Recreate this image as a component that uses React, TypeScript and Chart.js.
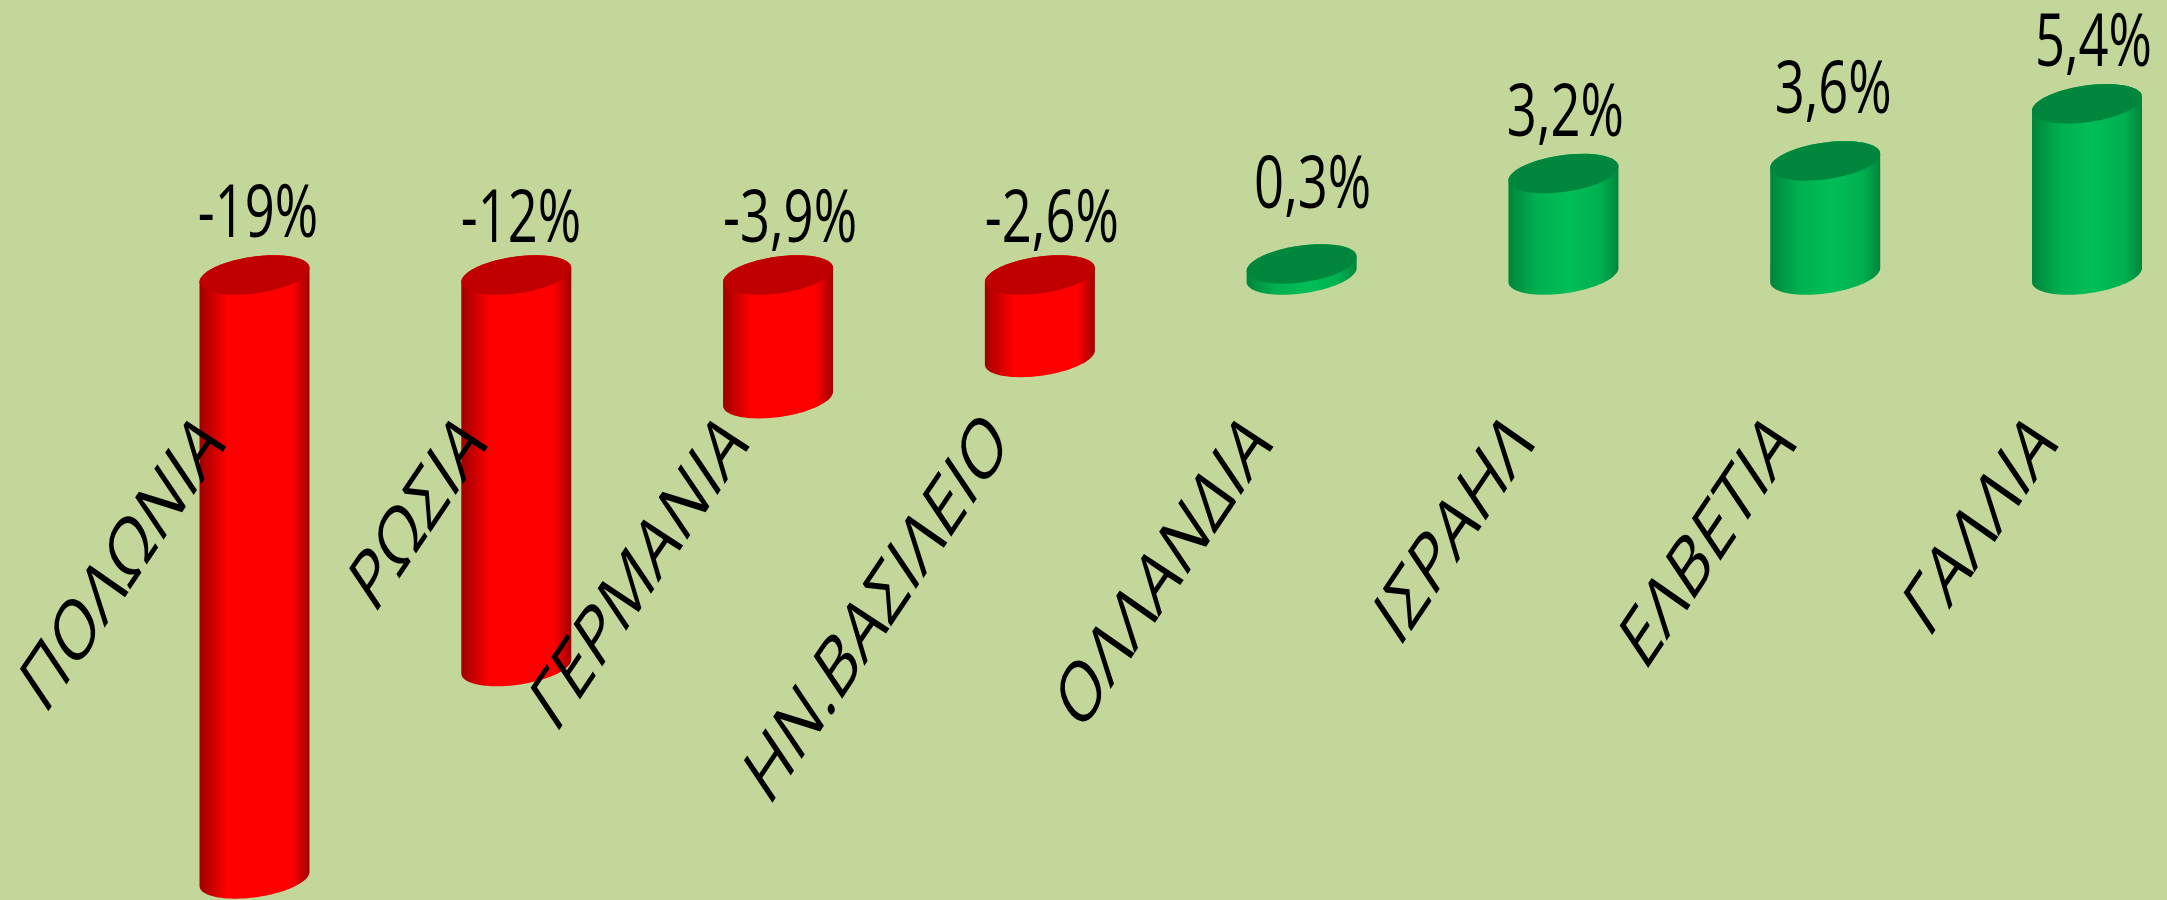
import React, { useEffect, useRef } from "react";
import { Chart, registerables, CategoryScale } from "chart.js";

Chart.register(...registerables);

// Data
const categories = ["ΠΟΛΩΝΙΑ", "ΡΩΣΙΑ", "ΓΕΡΜΑΝΙΑ", "ΗΝ.ΒΑΣΙΛΕΙΟ", "ΟΛΛΑΝΔΙΑ", "ΙΣΡΑΗΛ", "ΕΛΒΕΤΙΑ", "ΓΑΛΛΙΑ"];
const changeValues = [-19.05, -12.35, -3.9, -2.6, 0.35, 3.2, 3.6, 5.4];
const changeLabels = ["-19%", "-12%", "-3,9%", "-2,6%", "0,3%", "3,2%", "3,6%", "5,4%"];

// Layout and style constants
const W = 2167;
const H = 900;
const BG = "#C4D79B";
const TICK_SQUEEZE = 0.672; // the whole picture is squeezed horizontally
const VALUE_SQUEEZE = 0.71;
const BAR_WIDTH = 110;
const EDGE_TILT = 7;
const CAP_RY = 18.5;
const LABEL_DX = [3.5, 4.7, 12, 12, 11, 2, 8, 6.5];
const LABEL_GAP = [18, 13, 13, 13, 36, 18, 28, 18];

class SqueezedCategoryScale extends CategoryScale {
  static id = "squeezedCategory";
  drawLabels(chartArea: any) {
    const ctx = this.ctx;
    for (const item of (this as any).getLabelItems(chartArea)) {
      const { label, font, options } = item;
      ctx.save();
      ctx.translate(options.translation[0], options.translation[1]);
      ctx.scale(TICK_SQUEEZE, 1);
      ctx.rotate(options.rotation);
      ctx.font = font.string;
      ctx.fillStyle = options.color;
      ctx.textAlign = options.textAlign;
      ctx.textBaseline = options.textBaseline;
      ctx.fillText(label, 0, 0);
      ctx.restore();
    }
  }
}
Chart.register(SqueezedCategoryScale);

function capPath(ctx: CanvasRenderingContext2D, cx: number, cy: number, a: number, from: number, to: number, move: boolean) {
  const n = 48;
  for (let i = 0; i <= n; i++) {
    const t = from + ((to - from) * i) / n;
    const px = cx + a * Math.cos(t);
    const py = cy + CAP_RY * Math.sin(t) - EDGE_TILT * Math.cos(t);
    if (i === 0 && move) ctx.moveTo(px, py);
    else ctx.lineTo(px, py);
  }
}

const cylinders = {
  id: "cylinders",
  afterDatasetsDraw(chart: any) {
    const ctx: CanvasRenderingContext2D = chart.ctx;
    const meta = chart.getDatasetMeta(0);
    meta.data.forEach((bar: any, i: number) => {
      const value = changeValues[i];
      const neg = value < 0;
      const hi = Math.min(bar.y, bar.base);
      const lo = Math.max(bar.y, bar.base);
      const a = BAR_WIDTH / 2;
      const left = bar.x - a;
      const grad = ctx.createLinearGradient(left, 0, left + BAR_WIDTH, 0);
      const edge = neg ? "#A00000" : "#00853C";
      const mid = neg ? "#FF0000" : "#00B050";
      const light = neg ? "#FF0000" : "#00BE58";
      grad.addColorStop(0, edge);
      grad.addColorStop(0.26, mid);
      grad.addColorStop(0.55, light);
      grad.addColorStop(0.84, mid);
      grad.addColorStop(1, edge);

      ctx.save();
      ctx.beginPath();
      ctx.moveTo(left, hi + EDGE_TILT);
      ctx.lineTo(left, lo + EDGE_TILT);
      capPath(ctx, bar.x, lo, a, Math.PI, 0, false);
      ctx.lineTo(left + BAR_WIDTH, hi - EDGE_TILT);
      capPath(ctx, bar.x, hi, a, 0, -Math.PI, false);
      ctx.closePath();
      ctx.fillStyle = grad;
      ctx.fill();

      ctx.beginPath();
      capPath(ctx, bar.x, hi, a, 0, 2 * Math.PI, true);
      ctx.closePath();
      ctx.fillStyle = neg ? "#C00000" : "#00873D";
      ctx.fill();

      const capTop = hi - Math.sqrt(CAP_RY * CAP_RY + EDGE_TILT * EDGE_TILT);
      ctx.translate(bar.x + LABEL_DX[i], capTop - LABEL_GAP[i]);
      ctx.scale(VALUE_SQUEEZE, 1);
      ctx.font = '74px "Open Sans"';
      ctx.fillStyle = "#000000";
      ctx.textAlign = "center";
      ctx.textBaseline = "alphabetic";
      ctx.fillText(changeLabels[i], 0, 0);
      ctx.restore();
    });
  },
};

export default function App() {
  const ref = useRef<HTMLCanvasElement>(null);
  useEffect(() => {
    document.body.style.margin = "0";
    document.body.style.background = BG;
    const chart = new Chart(ref.current as HTMLCanvasElement, {
      type: "bar",
      data: {
        labels: categories,
        datasets: [{ data: changeValues, backgroundColor: "transparent", barThickness: BAR_WIDTH }],
      },
      options: {
        animation: false,
        responsive: false,
        layout: { autoPadding: false, padding: { left: 254.5, right: 80, top: 0, bottom: 0 } },
        plugins: { legend: { display: false }, title: { display: false }, tooltip: { enabled: false } },
        scales: {
          x: {
            type: "squeezedCategory",
            position: { y: -4.88 },
            offset: false,
            grid: { display: false, drawTicks: false },
            border: { display: false },
            afterFit(scale: any) {
              scale.height = 0;
              scale.paddingLeft = 0;
              scale.paddingRight = 0;
            },
            ticks: {
              z: 1,
              autoSkip: false,
              minRotation: 45,
              maxRotation: 45,
              padding: 0,
              labelOffset: -4,
              color: "#000000",
              font: { family: '"Open Sans"', size: 84 },
            },
          },
          y: {
            display: false,
            min: -19.716,
            max: 8.675,
            grid: { display: false },
          },
        },
      } as any,
      plugins: [cylinders],
    });
    return () => chart.destroy();
  }, []);
  return <canvas ref={ref} width={W} height={H} style={{ display: "block", background: BG, filter: "blur(0.6px)" }} />;
}
